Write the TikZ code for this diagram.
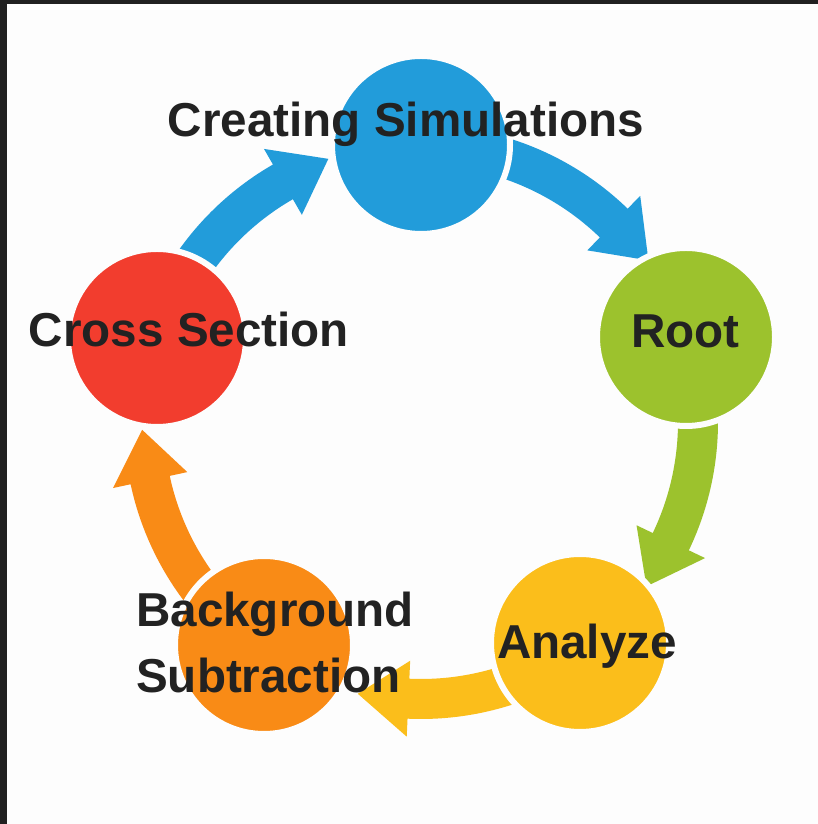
\documentclass[tikz,border=0pt]{standalone}
\usepackage{fontspec}
\setmainfont{Liberation Sans}
\usetikzlibrary{calc}

\definecolor{frame}{HTML}{202020}
\definecolor{paper}{HTML}{FDFDFD}
\definecolor{ink}{HTML}{222222}
\definecolor{cblue}{HTML}{229CDA}
\definecolor{cgreen}{HTML}{9CC22D}
\definecolor{cyellow}{HTML}{FBBE1B}
\definecolor{corange}{HTML}{F98B16}
\definecolor{cred}{HTML}{F23D2E}

% Curved block arrow running clockwise round the cycle centre O.
% #1 colour, #2 tail angle, #3 angle of the head base, #4 tip angle
\newcommand\cyclearrow[4]{%
  \fill[#1] ($(O)+(#2:297)$) arc[start angle=#2, end angle=#3, radius=297]
    -- ($(O)+(#3:315)$) -- ($(O)+(#4:279)$) -- ($(O)+(#3:239)$)
    -- ($(O)+(#3:257)$) arc[start angle=#3, end angle=#2, radius=257] -- cycle;}

\begin{document}
\begin{tikzpicture}[x=1pt,y=1pt,
  phase/.style={circle, inner sep=0pt, minimum size=178pt, draw=paper, line width=6pt},
  steptext/.style={text=ink, font=\fontsize{47.6}{56}\selectfont\bfseries, inner sep=0pt}]

  % page with dark frame on top and left
  \fill[frame] (0,0) rectangle (818,824);
  \fill[paper] (7,0) rectangle (818,820);
  \useasboundingbox (0,0) rectangle (818,824);

  \coordinate (O) at (421,402);

  % arrows between the stages
  \cyclearrow{cblue}{150}{119.9}{109.4}
  \cyclearrow{cblue}{78}{45.9}{35.4}
  \cyclearrow{cgreen}{6}{-25.6}{-36.1}
  \cyclearrow{cyellow}{-66}{-92.6}{-103.1}
  \cyclearrow{corange}{-138}{-167.9}{-178.4}

  % stages
  \node[phase, fill=cblue]   (sim)  at (421,679) {};
  \node[phase, fill=cgreen]  (root) at (686,487) {};
  \node[phase, fill=cyellow] (ana)  at (580,181) {};
  \node[phase, fill=corange] (bkg)  at (264,179) {};
  \node[phase, fill=cred]    (xsec) at (157,486) {};

  % labels
  \node[steptext, anchor=base] (simtext) at (406,687) {Creating Simulations};
  \node[steptext, anchor=base] (roottext) at (685.5,476) {Root};
  \node[steptext, anchor=base] (xsectext) at (189,477) {Cross Section};
  \node[steptext, anchor=base] (anatext) at (587,165) {Analyze};
  \node[steptext, anchor=base west] (bkgtext1) at (136,197) {Background};
  \node[steptext, anchor=base west] (bkgtext2) at (136,131) {Subtraction};
\end{tikzpicture}
\end{document}
